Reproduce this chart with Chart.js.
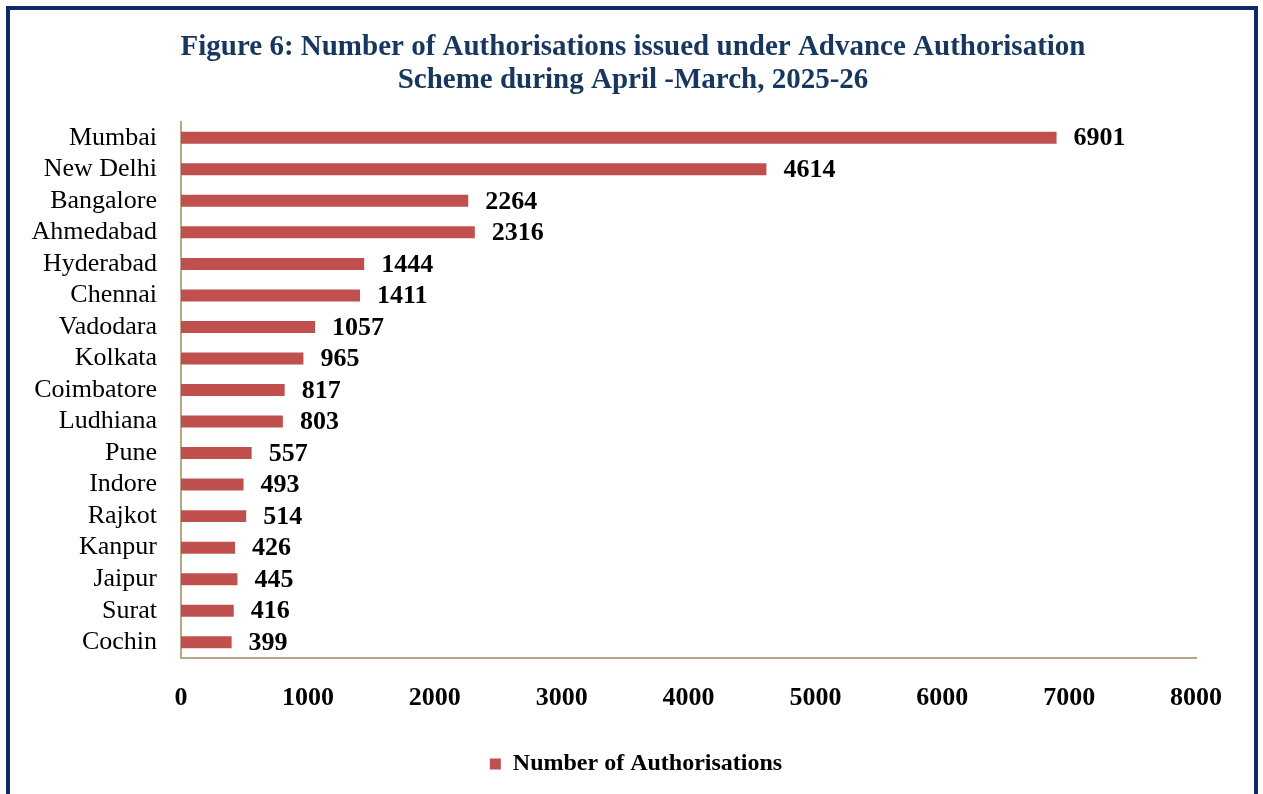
<!DOCTYPE html>
<html>
<head>
<meta charset="utf-8">
<script src="https://cdn.jsdelivr.net/npm/chart.js@4.4.1/dist/chart.umd.min.js"></script>
<style>
  html, body { margin: 0; padding: 0; background: #fff; overflow: hidden; }
  #wrap { position: absolute; left: 0; top: 0; width: 1263px; height: 794px; }
  #frame { position: absolute; left: 6px; top: 6px; width: 1252px; height: 900px; box-sizing: border-box;
           border: 4px solid #0d2a6b; pointer-events: none; }
</style>
</head>
<body>
<div id="wrap"><canvas id="c" width="1263" height="794"></canvas></div>
<div id="frame"></div>
<script>
const categories = ["Mumbai", "New Delhi", "Bangalore", "Ahmedabad", "Hyderabad", "Chennai", "Vadodara",
  "Kolkata", "Coimbatore", "Ludhiana", "Pune", "Indore", "Rajkot", "Kanpur", "Jaipur", "Surat", "Cochin"];
const authorisations = [6901, 4614, 2264, 2316, 1444, 1411, 1057, 965, 817, 803, 557, 493, 514, 426, 445, 416, 399];
const xTicks = [0, 1000, 2000, 3000, 4000, 5000, 6000, 7000, 8000];
const seriesName = "Number of Authorisations";
const titleLines = ["Figure 6: Number of Authorisations issued under Advance Authorisation",
  "Scheme during April -March, 2025-26"];

const SERIF = "'Liberation Serif', 'Times New Roman', serif";

const valueLabels = {
  id: 'valueLabels',
  afterDatasetsDraw(chart) {
    const ctx = chart.ctx;
    const meta = chart.getDatasetMeta(0);
    ctx.save();
    ctx.font = "bold 26px " + SERIF;
    ctx.fillStyle = "#000";
    ctx.textAlign = "left";
    ctx.textBaseline = "middle";
    meta.data.forEach((bar, i) => {
      ctx.fillText(String(chart.data.datasets[0].data[i]), bar.x + 17, bar.y + 1);
    });
    ctx.restore();
  }
};

// centre title and legend on the framed figure rather than the padded chart box
const recentre = {
  id: 'recentre',
  afterLayout(chart) {
    const shiftT = 35, shiftL = 38;
    if (chart.titleBlock) { chart.titleBlock.left += shiftT; chart.titleBlock.right += shiftT; }
    if (chart.legend) { chart.legend.left += shiftL; chart.legend.right += shiftL; }
  }
};

new Chart(document.getElementById('c'), {
  type: 'bar',
  data: {
    labels: categories,
    datasets: [{
      label: seriesName,
      data: authorisations,
      backgroundColor: '#c0504d',
      borderWidth: 0,
      categoryPercentage: 1,
      barPercentage: 0.38
    }]
  },
  options: {
    responsive: false,
    animation: false,
    indexAxis: 'y',
    layout: { padding: { left: 0, right: 67, top: 0, bottom: 8 } },
    plugins: {
      title: {
        display: true,
        text: titleLines,
        color: '#17375e',
        font: { family: SERIF, size: 29, weight: 'bold', lineHeight: 1.138 },
        padding: { top: 31, bottom: 25 }
      },
      legend: {
        position: 'bottom',
        labels: {
          color: '#000',
          boxWidth: 11, boxHeight: 11,
          font: { family: SERIF, size: 24, weight: 'bold' }
        }
      },
      tooltip: { enabled: false }
    },
    scales: {
      x: {
        min: 0, max: 8000,
        afterBuildTicks(scale) { scale.ticks = xTicks.map(v => ({ value: v })); },
        afterFit(scale) { scale.height = 84; },
        grid: { display: false, drawTicks: false },
        border: { display: true, color: '#b5a883', width: 2 },
        ticks: { color: '#000', padding: 25, font: { family: SERIF, size: 26, weight: 'bold' }, maxRotation: 0,
                 callback: (v) => String(v) }
      },
      y: {
        afterFit(scale) { scale.width = 181; },
        grid: { display: false, drawTicks: false },
        border: { display: true, color: '#b5a883', width: 2 },
        ticks: { color: '#000', padding: 24, font: { family: SERIF, size: 26 }, autoSkip: false }
      }
    }
  },
  plugins: [valueLabels, recentre]
});
</script>
</body>
</html>
